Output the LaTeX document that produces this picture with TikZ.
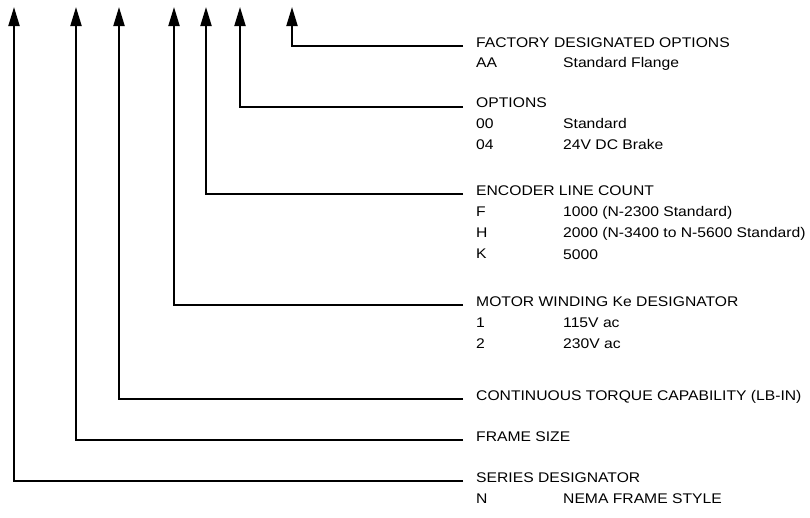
\documentclass[tikz,border=0pt]{standalone}
\usepackage{fontspec}
\setmainfont{Liberation Sans}[FakeStretch=1.12]
\usetikzlibrary{arrows.meta}
\begin{document}
\begin{tikzpicture}[x=1pt,y=-1pt,
  lbl/.style={anchor=base west, inner sep=0pt, font=\fontsize{14}{16}\selectfont},
  conn/.style={line width=2pt, -{Triangle[length=19pt,width=11pt]}}]
\useasboundingbox (0,0) rectangle (810,517);
% arrow tips
\coordinate (tA) at (14,7);
\coordinate (tB) at (76,7);
\coordinate (tC) at (119,7);
\coordinate (tD) at (174,7);
\coordinate (tE) at (206,7);
\coordinate (tF) at (240,7);
\coordinate (tG) at (292,7);
% line ends
\coordinate (eG) at (463,46);
\coordinate (eF) at (463,106.5);
\coordinate (eE) at (463,194);
\coordinate (eD) at (463,305);
\coordinate (eC) at (463,399);
\coordinate (eB) at (463,440);
\coordinate (eA) at (463,481);
% texts
\node[lbl] (hG) at (476,47) {FACTORY DESIGNATED OPTIONS};
\node[lbl] (cG1) at (476,67) {AA};
\node[lbl] (dG1) at (563,67) {Standard Flange};

\node[lbl] (hF) at (476,107) {OPTIONS};
\node[lbl] (cF1) at (476,128) {00};
\node[lbl] (dF1) at (563,128) {Standard};
\node[lbl] (cF2) at (476,149) {04};
\node[lbl] (dF2) at (563,149) {24V DC Brake};

\node[lbl] (hE) at (476,195) {ENCODER LINE COUNT};
\node[lbl] (cE1) at (476,216) {F};
\node[lbl] (dE1) at (563,216) {1000 (N-2300 Standard)};
\node[lbl] (cE2) at (476,237) {H};
\node[lbl] (dE2) at (563,237) {2000 (N-3400 to N-5600 Standard)};
\node[lbl] (cE3) at (476,258) {K};
\node[lbl] (dE3) at (563,259) {5000};

\node[lbl] (hD) at (476,306) {MOTOR WINDING Ke DESIGNATOR};
\node[lbl] (cD1) at (476,327) {1};
\node[lbl] (dD1) at (563,327) {115V ac};
\node[lbl] (cD2) at (476,348) {2};
\node[lbl] (dD2) at (563,348) {230V ac};

\node[lbl] (hC) at (476,400) {CONTINUOUS TORQUE CAPABILITY (LB-IN)};
\node[lbl] (hB) at (476,441) {FRAME SIZE};
\node[lbl] (hA) at (476,482) {SERIES DESIGNATOR};
\node[lbl] (cA1) at (476,503) {N};
\node[lbl] (dA1) at (563,503) {NEMA FRAME STYLE};
% connectors
\foreach \k in {A,B,C,D,E,F,G}{
  \draw[conn] (e\k) -| (t\k);
}
\end{tikzpicture}
\end{document}
